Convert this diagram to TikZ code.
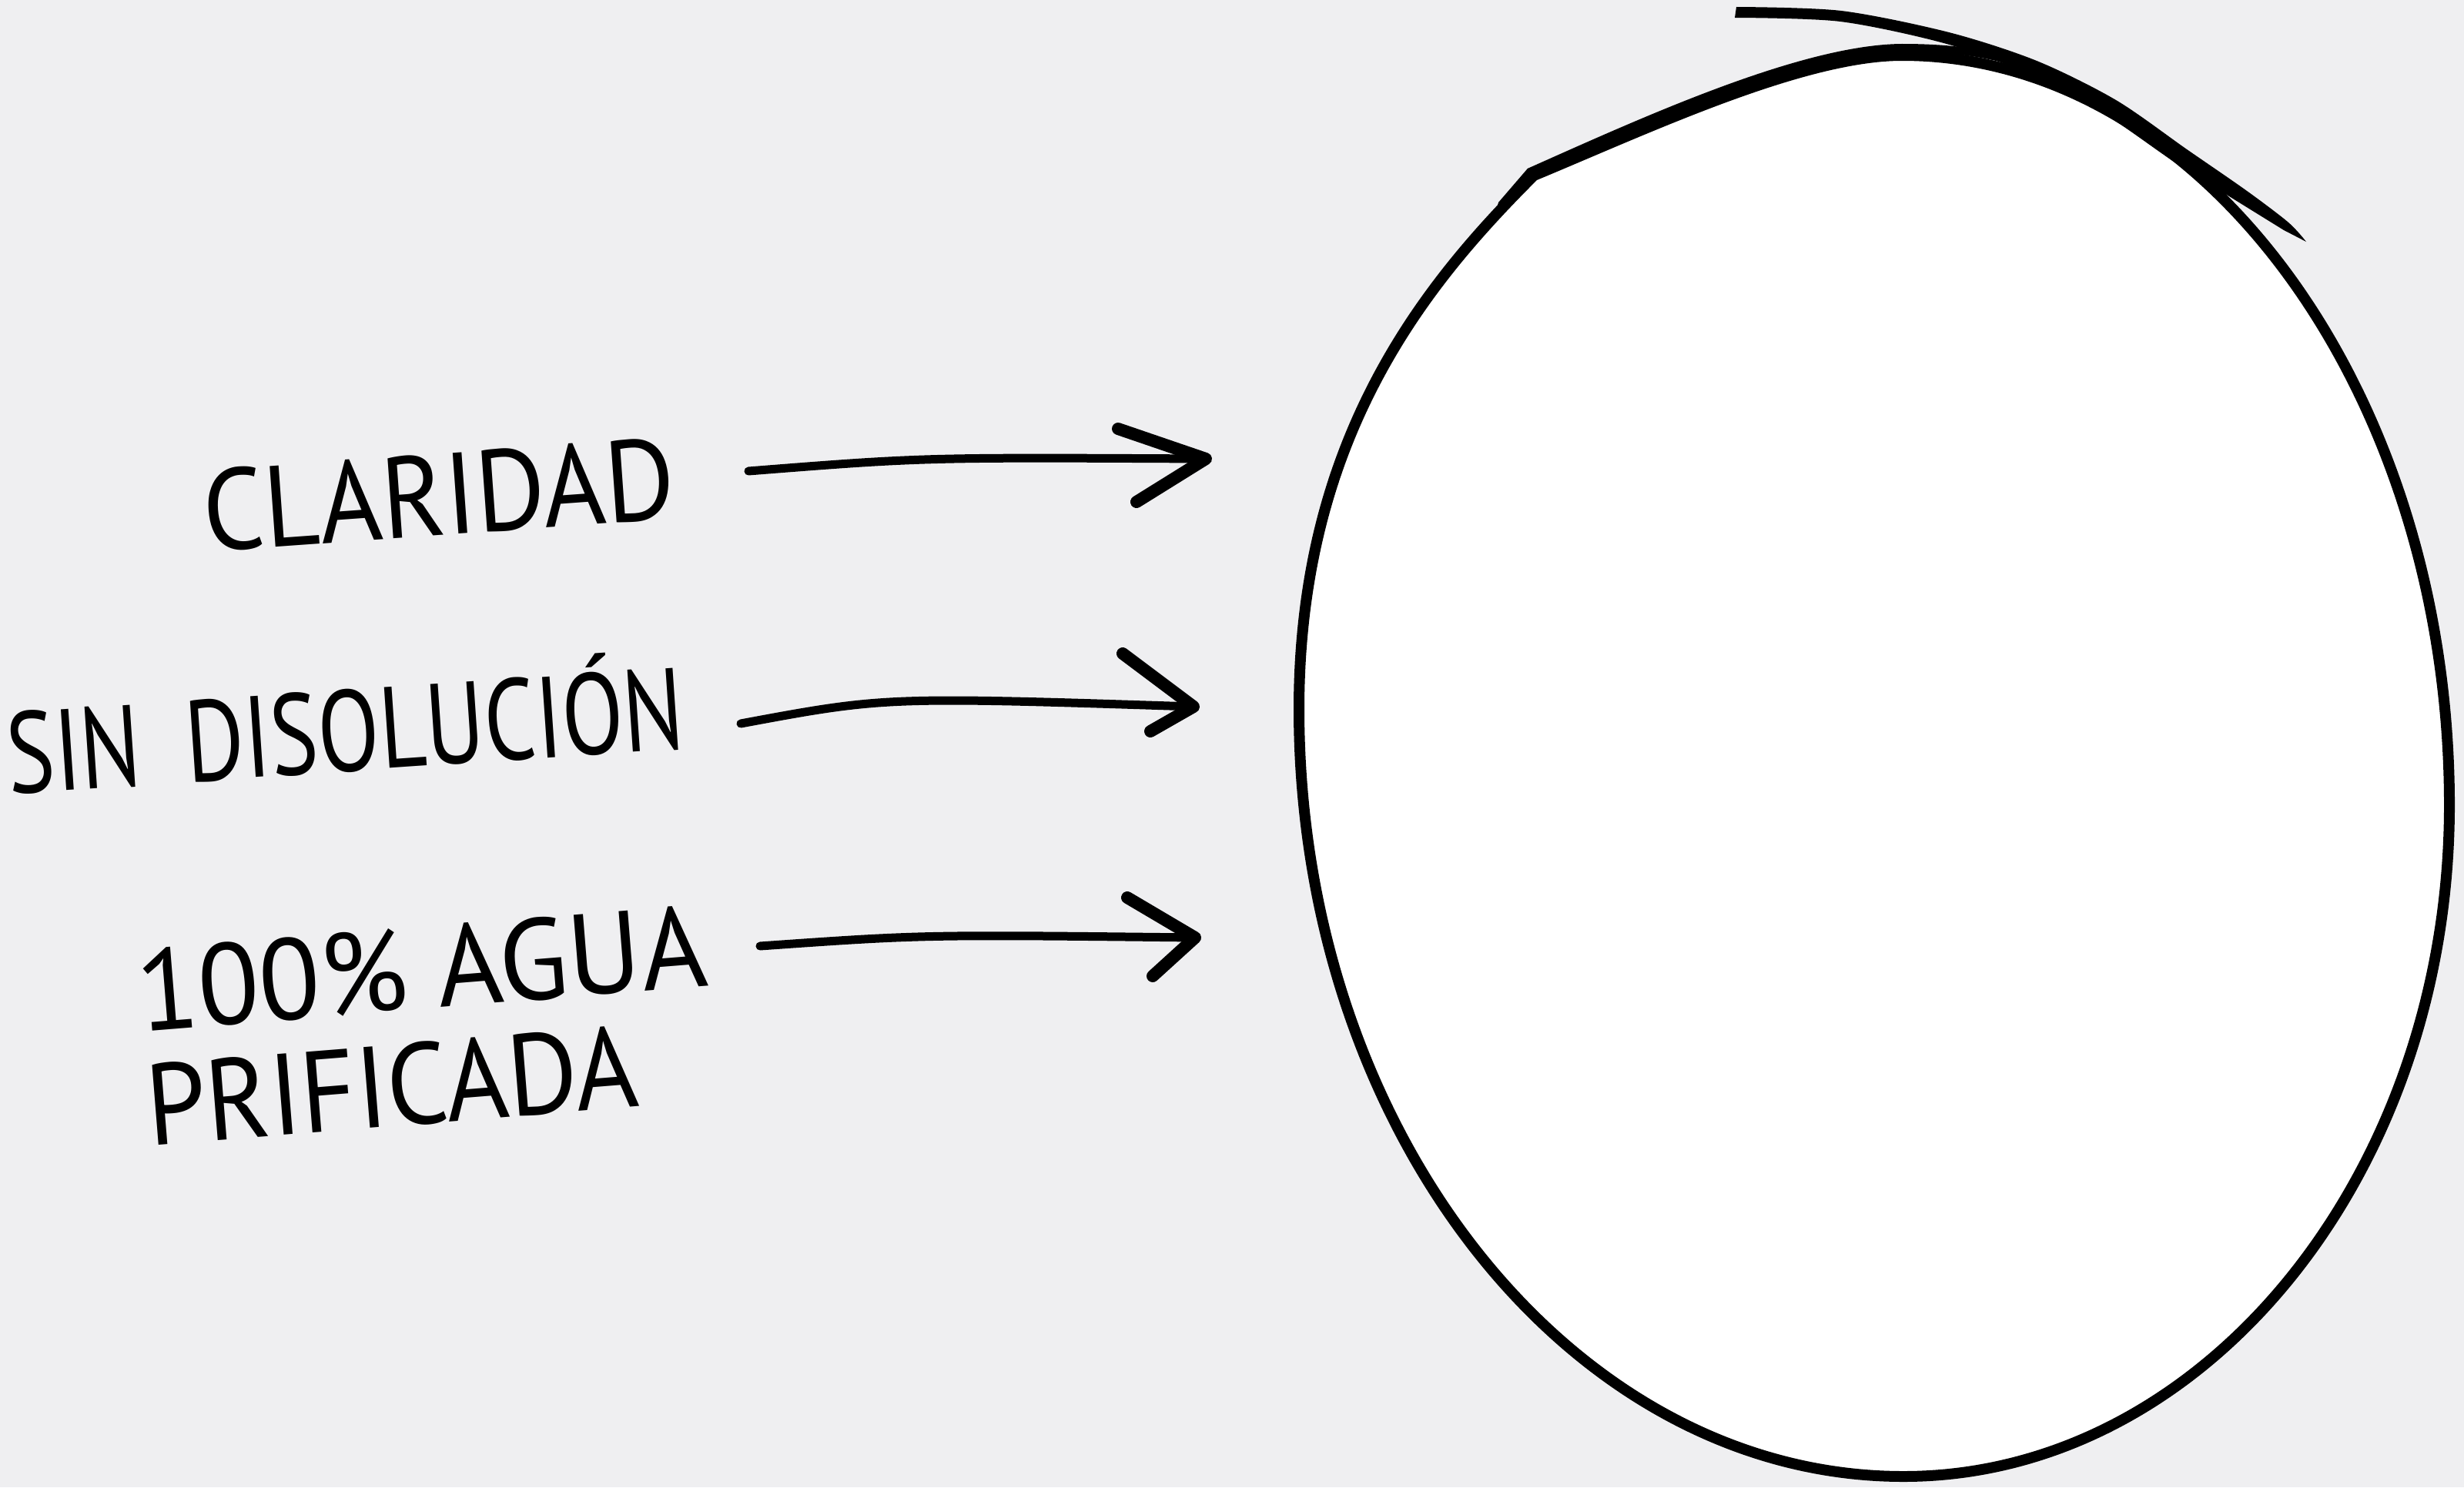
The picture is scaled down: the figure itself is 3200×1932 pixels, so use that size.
\documentclass[tikz,border=0pt]{standalone}
\usepackage{fontspec}
\setmainfont{PT Sans}
\usetikzlibrary{calc}
\definecolor{bg}{RGB}{239,239,241}
\newcommand\fitw[2]{\resizebox{#1}{\height}{#2}}
\tikzset{
  handtext/.style={inner sep=0pt, anchor=base west, font=\fontsize{150}{149}\selectfont},
  outline/.style={line width=14pt, line join=round, fill=white},
  shaft/.style={line width=11pt, line cap=round},
  barb/.style={line width=16pt, line cap=round, line join=round},
}
\begin{document}
\begin{tikzpicture}[x=1pt,y=-1pt]
\useasboundingbox (0,0) rectangle (3200,1932);
\fill[bg] (0,0) rectangle (3200,1932);

% oval: top, right, bottom, left, shoulder
\coordinate (oT) at (2470,72);
\coordinate (oR) at (3181,1046);
\coordinate (oB) at (2472,1918);
\coordinate (oL) at (1687,921);
\coordinate (oP) at (1992,228);
\draw[outline] (oT) .. controls (2861,72) and (3181,510) .. (oR)
  .. controls (3181,1526) and (2862,1918) .. (oB)
  .. controls (2040,1918) and (1687,1469) .. (oL)
  .. controls (1687,560) and (1860,360) .. (oP)
  .. controls (2139,167) and (2340,72) .. (oT) -- cycle;
% thickening stroke along the top-left
\draw[line width=10pt, line cap=round] (1950,266) -- (1987,223) .. controls (2133,158) and (2340,63) .. (2470,62) .. controls (2540,62) and (2590,70) .. (2640,88);
% tail stroke top-right
\fill plot[smooth] coordinates {(2255,9) (2391,14) (2531,42) (2645,79) (2748,130) (2840,194) (2918,248) (2972,289) (2995,314)} -- plot[smooth] coordinates {(2966,299) (2903,260) (2826,212) (2733,148) (2635,96) (2528,57) (2390,28) (2253,23)} -- cycle;

% labels
\node[handtext, rotate=4.1] (claridad) at (267,717) {\fitw{614pt}{CLARIDAD}};
\node[handtext, rotate=3.9] (sindis) at (12,1032) {\fitw{881pt}{SIN\hspace{0.5em}DISOLUCIÓN}};
\node[handtext, rotate=4.6] (agua) at (182,1340) {\vtop{\hbox{\fitw{742pt}{100\% AGUA}}\hbox{\fitw{640pt}{PRIFICADA}}}};

% arrows
\coordinate (a1s) at (972,612);
\coordinate (a1c) at (1200,594);
\coordinate (a1e) at (1566,596);
\coordinate (a1u) at (1452,557);
\coordinate (a1l) at (1476,652);
\draw[shaft] (a1s) .. controls (a1c) .. (a1e);
\draw[barb] (a1u) -- (a1e) -- (a1l);

\coordinate (a2s) at (962,940);
\coordinate (a2c) at (1150,905);
\coordinate (a2e) at (1550,918);
\coordinate (a2u) at (1458,849);
\coordinate (a2l) at (1494,950);
\draw[shaft] (a2s) .. controls (a2c) .. (a2e);
\draw[barb] (a2u) -- (a2e) -- (a2l);

\coordinate (a3s) at (987,1229);
\coordinate (a3c) at (1200,1214);
\coordinate (a3e) at (1552,1218);
\coordinate (a3u) at (1464,1166);
\coordinate (a3l) at (1497,1268);
\draw[shaft] (a3s) .. controls (a3c) .. (a3e);
\draw[barb] (a3u) -- (a3e) -- (a3l);
\end{tikzpicture}
\end{document}
